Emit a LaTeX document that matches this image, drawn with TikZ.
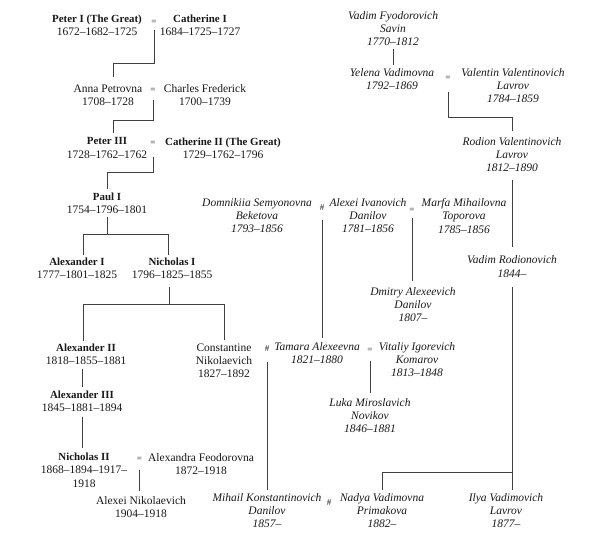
\documentclass[tikz,border=0pt]{standalone}
\usepackage{fontspec}
\setmainfont{Liberation Serif}
\newcommand\bn[1]{{\fontsize{10.9}{13.2}\selectfont\bfseries #1}}
\tikzset{
  person/.style={inner sep=0pt, align=center, text=black!90,
    font=\fontsize{11.5}{13.2}\selectfont,
    execute at begin node=\rule{0pt}{8.5pt},
    execute at end node=\rule[-3pt]{0pt}{3pt}},
  fict/.style={person, font=\fontsize{11.5}{13.2}\selectfont\itshape},
  sym/.style={inner sep=0pt, text=black!90, font=\fontsize{9}{9}\selectfont},
  link/.style={draw=black!75, line width=0.8pt},
}
\begin{document}
\begin{tikzpicture}[x=1pt,y=-1pt]
\useasboundingbox[fill=white] (0,0) rectangle (600,546);
% Romanov line
\node[person] (peter1) at (97,27) {\bn{Peter I (The Great)}\\1672--1682--1725};
\node[sym] (eq1) at (154,22) {=};
\node[person] (cath1) at (200,27) {\bn{Catherine I}\\1684--1725--1727};
\node[person] (anna) at (108,96.5) {Anna Petrovna\\1708--1728};
\node[sym] (eq2) at (153,90) {=};
\node[person] (charles) at (205,96.5) {Charles Frederick\\1700--1739};
\node[person] (peter3) at (107,149.5) {\bn{Peter III}\\1728--1762--1762};
\node[sym] (eq3) at (153,143) {=};
\node[person] (cath2) at (223,149.5) {\bn{Catherine II (The Great)}\\1729--1762--1796};
\node[person] (paul) at (107,205) {\bn{Paul I}\\1754--1796--1801};
\node[person] (alex1) at (77,269.5) {\bn{Alexander I}\\1777--1801--1825};
\node[person] (nich1) at (172,269.5) {\bn{Nicholas I}\\1796--1825--1855};
\node[person] (alex2) at (86,356) {\bn{Alexander II}\\1818--1855--1881};
\node[person] (const) at (224,362) {Constantine\\Nikolaevich\\1827--1892};
\node[person] (alex3) at (82,402.5) {\bn{Alexander III}\\1845--1881--1894};
\node[person] (nich2) at (84,471.7) {\bn{Nicholas II}\\1868--1894--1917--\\1918};
\node[sym] (eq4) at (139.5,459) {=};
\node[person] (alexandra) at (201,465.5) {Alexandra Feodorovna\\1872--1918};
\node[person] (alexei) at (141,508.5) {Alexei Nikolaevich\\1904--1918};
% fictional line
\node[fict] (vadimF) at (393,30.3) {Vadim Fyodorovich\\Savin\\1770--1812};
\node[fict] (yelena) at (392,80.5) {Yelena Vadimovna\\1792--1869};
\node[sym] (eq5) at (448,78) {=};
\node[fict] (valentin) at (513,87) {Valentin Valentinovich\\Lavrov\\1784--1859};
\node[fict] (rodion) at (512,156.3) {Rodion Valentinovich\\Lavrov\\1812--1890};
\node[fict] (domn) at (257,217.3) {Domnikiia Semyonovna\\Beketova\\1793--1856};
\node[sym] (hash1) at (322,208) {\#};
\node[fict] (alexeiI) at (368,217.3) {Alexei Ivanovich\\Danilov\\1781--1856};
\node[sym] (eq6) at (412,210) {=};
\node[fict] (marfa) at (464,217.3) {Marfa Mihailovna\\Toporova\\1785--1856};
\node[fict] (vadimR) at (512,268) {Vadim Rodionovich\\1844--};
\node[fict] (dmitry) at (413,306.3) {Dmitry Alexeevich\\Danilov\\1807--};
\node[sym] (hash2) at (267,349) {\#};
\node[fict] (tamara) at (317,354.5) {Tamara Alexeevna\\1821--1880};
\node[sym] (eq7) at (370,350) {=};
\node[fict] (vitaliy) at (417,361) {Vitaliy Igorevich\\Komarov\\1813--1848};
\node[fict] (luka) at (370,417.3) {Luka Miroslavich\\Novikov\\1846--1881};
\node[fict] (mihail) at (267,512.3) {Mihail Konstantinovich\\Danilov\\1857--};
\node[sym] (hash3) at (329,503) {\#};
\node[fict] (nadya) at (382,512.3) {Nadya Vadimovna\\Primakova\\1882--};
\node[fict] (ilya) at (506,512.3) {Ilya Vadimovich\\Lavrov\\1877--};
% connectors: Romanovs
\draw[link] (eq1.center) ++(0,8) -- ++(0,33) -| ([xshift=5pt,yshift=7.3pt]anna.north);
\draw[link] (eq2.center) ++(0,10) -- ++(0,20) -| ([xshift=6pt,yshift=4.3pt]peter3.north);
\draw[link] (eq3.center) ++(0,14) -- ++(0,15) -| ([yshift=4.3pt]paul.north);
\draw[link] (paul.south) -- ++(0,17) coordinate (j1);
\draw[link] ([xshift=6pt,yshift=2.3pt]alex1.north) |- (j1) -| ([xshift=-4pt,yshift=2.3pt]nich1.north);
\draw[link] ([xshift=-3pt,yshift=-5pt]nich1.south) -- ++(0,18) coordinate (j2);
\draw[link] ([xshift=-3pt,yshift=3.3pt]alex2.north) |- (j2) -| ([yshift=3.3pt]const.north);
\draw[link] ([yshift=-1pt]alex3.north |- alex2.south) -- ([yshift=3pt]alex3.north);
\draw[link] ([yshift=-2pt]alex3.south) -- ([yshift=5.3pt]alex3.south |- nich2.north);
\draw[link] ([yshift=-11pt]eq4.center) -- ([yshift=5.3pt]eq4.center |- alexei.north);
% connectors: fictional
\draw[link] (vadimF.south) -- ([yshift=3pt]vadimF.south |- yelena.north);
\draw[link] (eq5.center) ++(0,14) -- ++(0,25) -| ([yshift=6pt]rodion.north);
\draw[link] ([yshift=-5pt]rodion.south) -- ([yshift=9pt]vadimR.north);
\draw[link] ([yshift=-7pt]vadimR.south) -- ++(0,185) coordinate (j3);
\draw[link] (j3) -- ([yshift=3.3pt]j3 |- ilya.north);
\draw[link] (j3) -| ([yshift=3.3pt]nadya.north);
\draw[link] ([yshift=-12pt]hash1.center) -- ([yshift=4.3pt]hash1.center |- tamara.north);
\draw[link] ([yshift=-8pt]eq6.center) -- ([yshift=6.3pt]eq6.center |- dmitry.north);
\draw[link] ([yshift=-13pt]hash2.center) -- ([yshift=3.3pt]hash2.center |- mihail.north);
\draw[link] ([yshift=-11pt]eq7.center) -- ([yshift=5.3pt]eq7.center |- luka.north);
\end{tikzpicture}
\end{document}
